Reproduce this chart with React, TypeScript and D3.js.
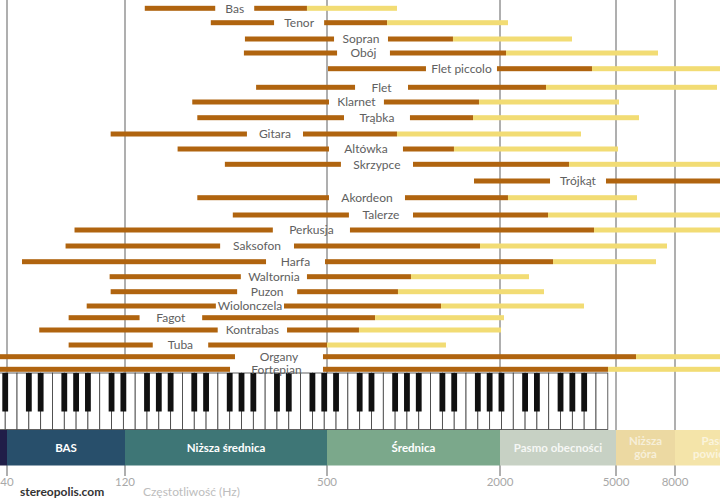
import React from 'react';
import * as d3 from 'd3';

// ---------- DATA ----------
const instruments = ['Bas', 'Tenor', 'Sopran', 'Obój', 'Flet piccolo', 'Flet', 'Klarnet', 'Trąbka', 'Gitara', 'Altówka', 'Skrzypce', 'Trójkąt', 'Akordeon', 'Talerze', 'Perkusja', 'Saksofon', 'Harfa', 'Waltornia', 'Puzon', 'Wiolonczela', 'Fagot', 'Kontrabas', 'Tuba', 'Organy', 'Fortepian'];
// fundamental range (Hz): low end, label gap, high end
const fundLow = [138, 220, 280, 278, 504, 303, 193, 200, 105, 174, 243, 1624, 200, 257, 75, 69, 46, 104, 105, 84, 71, 54, 71, 16, 27.5];
const labelFrom = [227, 344, 529, 542, 1105, 626, 508, 573, 284, 508, 559, 2969, 508, 596, 341, 235, 325, 272, 265, 228, 133, 231, 146, 261, 252];
const labelTo = [299, 490, 815, 828, 1952, 957, 789, 972, 422, 919, 996, 4620, 934, 996, 601, 396, 493, 434, 405, 369, 207, 377, 216, 486, 486];
const fundHigh = [434, 809, 1372, 2097, 4136, 2876, 1690, 1611, 876, 1383, 3449, 16000, 2130, 2922, 4202, 1704, 3040, 980, 883, 1247, 735, 646, 500, 5864, 4694];
// harmonics upper end (Hz)
const harmHigh = [876, 2130, 3532, 6987, 16000, 11178, 5121, 6006, 3792, 5080, 16000, 16000, 5910, 16000, 16000, 7506, 6876, 2515, 2831, 3883, 2064, 2016, 1297, 16000, 16000];

const tickValues = [40, 120, 500, 2000, 5000, 8000];
const tickLabels = ['40', '120', '500', '2000', '5000', '8000'];

const bandNames = ['', 'BAS', 'Niższa średnica', 'Średnica', 'Pasmo obecności', 'Niższa góra', 'Pasmo powietrza'];
const bandEdges = [10, 40, 120, 500, 2000, 5000, 8000, 16000];

const whiteKeyLetters = ['A', 'B', 'C', 'D', 'E', 'F', 'G'];
const WHITE_KEY_COUNT = 52;

// ---------- STYLE / LAYOUT ----------
const W = 720;
const H = 500;
const FONT = 'Lato, "Open Sans", sans-serif';
const DARK = '#b0640f';
const LIGHT = '#f2dc74';
const GRID = '#7a7a7a';
const bandColors = ['#201e48', '#284f6b', '#3e7676', '#7ba88b', '#c7d1c4', '#ecd9a2', '#f4e4a9'];
const bandTextOpacity = [1, 1, 1, 1, 0.85, 0.6, 0.6];
const ROW_RANGE = [8.3, 22.7, 39, 53, 68.7, 87.3, 102, 117.7, 134, 149, 164.3, 181, 197.7, 215, 230, 246, 261.7, 276.7, 291.7, 306, 317.7, 330, 345, 356.7, 369.3];
const BAR_H = 5;
const KB_TOP = 373;
const KB_BOTTOM = 429.5;
const BLACK_BOTTOM = 411.5;
const BAND_TOP = 430;
const BAND_BOTTOM = 465.5;

export default function App() {
  const x = d3.scaleLog()
    .domain([40, 120, 500, 2000, 5000, 8000])
    .range([7, 125, 327, 500, 616, 675]);
  const y = d3.scaleOrdinal<string, number>().domain(instruments).range(ROW_RANGE);
  const kx = d3.scaleLinear().domain([0, WHITE_KEY_COUNT]).range([-6.6, 607.8]);

  const whiteKeys = d3.range(WHITE_KEY_COUNT);
  const blackKeys = d3.range(WHITE_KEY_COUNT - 1).filter((i) => {
    const l = whiteKeyLetters[i % 7];
    return l !== 'B' && l !== 'E';
  });
  const blackW = 5.8;

  const bar = (key: string, a: number, b: number, yy: number, color: string) => {
    const x0 = x(a);
    const x1 = x(b);
    if (x1 <= x0) return null;
    return <rect key={key} x={x0} y={yy - BAR_H / 2} width={x1 - x0} height={BAR_H} fill={color} />;
  };

  return (
    <div style={{ position: 'absolute', left: 0, top: 0 }}>
      <svg width={W} height={H} style={{ display: 'block', fontFamily: FONT }}>
        <rect x={0} y={0} width={W} height={H} fill="#ffffff" />

        {/* grid lines */}
        {tickValues.map((t) => (
          <line key={'g' + t} x1={x(t)} x2={x(t)} y1={0} y2={476} stroke={GRID} strokeWidth={1.2} />
        ))}

        {/* keyboard */}
        <g>
          {whiteKeys.map((i) => (
            <rect key={'w' + i} x={kx(i)} y={KB_TOP} width={kx(i + 1) - kx(i)} height={KB_BOTTOM - KB_TOP}
              fill="#ffffff" stroke="#3a3a3a" strokeWidth={0.8} />
          ))}
          {blackKeys.map((i) => (
            <rect key={'b' + i} x={kx(i + 1) - blackW / 2} y={KB_TOP} width={blackW} height={BLACK_BOTTOM - KB_TOP}
              fill="#111111" />
          ))}
        </g>

        {/* instrument bars */}
        {instruments.map((name, i) => {
          const yy = y(name);
          const lx = (x(labelFrom[i]) + x(labelTo[i])) / 2;
          return (
            <g key={name}>
              {bar('d1', fundLow[i], labelFrom[i], yy, DARK)}
              {bar('d2', labelTo[i], fundHigh[i], yy, DARK)}
              {bar('l', fundHigh[i], harmHigh[i], yy, LIGHT)}
              <text x={lx} y={yy} dy="0.35em" textAnchor="middle" fontSize={12} fill="#606060">
                {name}
              </text>
            </g>
          );
        })}

        {/* frequency bands */}
        {bandNames.map((name, i) => {
          const x0 = x(bandEdges[i]);
          const x1 = x(bandEdges[i + 1]);
          const cxText = (x0 + x1) / 2;
          const words = name.split(' ');
          const twoLines = x1 - x0 < 100 && words.length > 1;
          return (
            <g key={'band' + i}>
              <rect x={x0} y={BAND_TOP} width={x1 - x0} height={BAND_BOTTOM - BAND_TOP} fill={bandColors[i]} />
              {name && !twoLines && (
                <text x={cxText} y={(BAND_TOP + BAND_BOTTOM) / 2} dy="0.35em" textAnchor="middle" fontSize={11.5}
                  fontWeight="bold" fill="#ffffff" fillOpacity={bandTextOpacity[i]}>
                  {name}
                </text>
              )}
              {name && twoLines && (
                <text x={cxText} y={(BAND_TOP + BAND_BOTTOM) / 2} textAnchor="middle" fontSize={11.5}
                  fontWeight="bold" fill="#ffffff" fillOpacity={bandTextOpacity[i]}>
                  <tspan x={cxText} dy="-0.25em">{words[0]}</tspan>
                  <tspan x={cxText} dy="1.15em">{words.slice(1).join(' ')}</tspan>
                </text>
              )}
            </g>
          );
        })}

        {/* tick labels */}
        {tickValues.map((t, i) => (
          <text key={'t' + t} x={x(t)} y={486} textAnchor="middle" fontSize={11.5} fill="#a8a8a8">
            {tickLabels[i]}
          </text>
        ))}

        <text x={20} y={496} fontSize={12} fontWeight="bold" fill="#333333">stereopolis.com</text>
        <text x={143} y={496} fontSize={12} fill="#bdbdbd">Częstotliwość (Hz)</text>
      </svg>
    </div>
  );
}
